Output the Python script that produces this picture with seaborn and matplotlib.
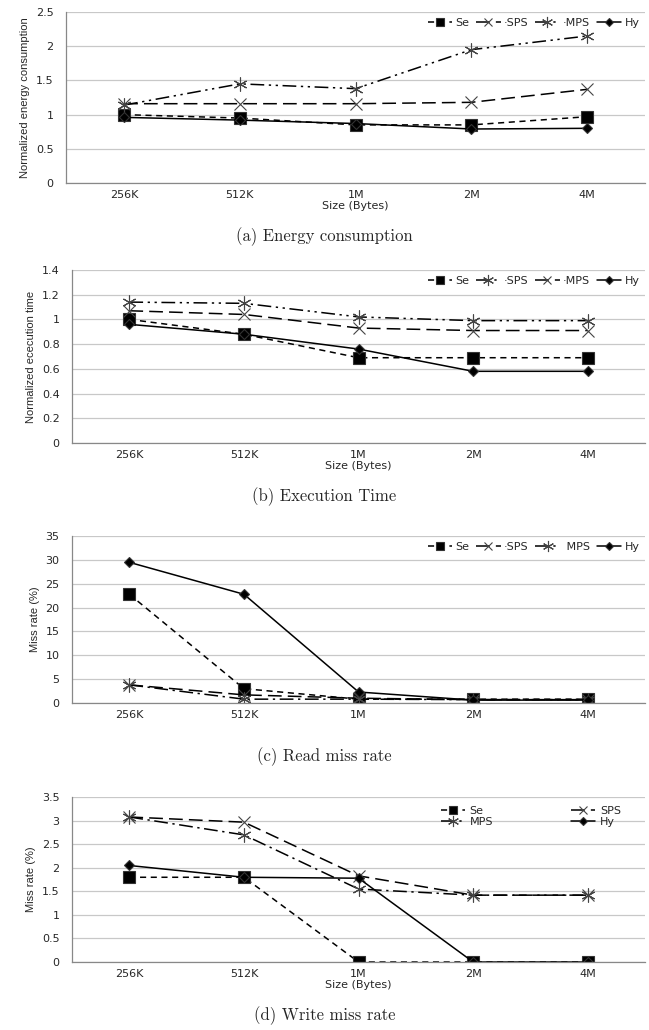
import matplotlib
matplotlib.use("Agg")
import matplotlib.pyplot as plt
import seaborn as sns
import pandas as pd

sizes = ["256K", "512K", "1M", "2M", "4M"]

# (a) energy consumption
energy_se = [1.00, 0.95, 0.85, 0.85, 0.97]
energy_sps = [1.16, 1.16, 1.16, 1.18, 1.37]
energy_mps = [1.14, 1.45, 1.38, 1.95, 2.15]
energy_hy = [0.96, 0.92, 0.87, 0.79, 0.80]

# (b) execution time
time_se = [1.00, 0.88, 0.69, 0.69, 0.69]
time_sps = [1.14, 1.13, 1.02, 0.99, 0.99]
time_mps = [1.07, 1.04, 0.93, 0.91, 0.91]
time_hy = [0.96, 0.88, 0.76, 0.58, 0.58]

# (c) read miss rate
read_se = [22.8, 3.0, 0.8, 0.8, 0.8]
read_sps = [3.8, 1.7, 1.0, 0.7, 0.7]
read_mps = [3.8, 0.8, 0.8, 0.7, 0.7]
read_hy = [29.5, 22.8, 2.3, 0.6, 0.6]

# (d) write miss rate
write_se = [1.80, 1.80, 0.0, 0.0, 0.0]
write_sps = [3.08, 2.97, 1.83, 1.42, 1.42]
write_mps = [3.08, 2.70, 1.55, 1.42, 1.42]
write_hy = [2.05, 1.80, 1.78, 0.0, 0.0]

sns.set_style("white")
plt.rcParams['font.family'] = ['DejaVu Sans']

fig = plt.figure(figsize=(6.49, 10.30), dpi=100)

dash_short = (4, 3)
dash_long = (9, 4)
dash_dot2 = (9, 3, 1.5, 3, 1.5, 3)
dash_dot = (9, 3, 1.5, 3)

star = (6, 2, 0)

# series name -> (marker, size, dash)
styles_a = {"Se": ("s", 8, dash_short), "SPS": ("x", 8, dash_long),
            "MPS": (star, 10, dash_dot2), "Hy": ("D", 5, None)}
styles_b = {"Se": ("s", 8, dash_short), "SPS": (star, 10, dash_dot2),
            "MPS": ("x", 8, dash_long), "Hy": ("D", 5, None)}
styles_d = {"Se": ("s", 8, dash_short), "SPS": ("x", 8, dash_long),
            "MPS": (star, 10, dash_dot), "Hy": ("D", 5, None)}

panels = [
    dict(rect=[0.102, 0.8223, 0.892, 0.166], data=[energy_se, energy_sps, energy_mps, energy_hy],
         ylim=(0, 2.5), yticks=[0, 0.5, 1, 1.5, 2, 2.5], ylabel="Normalized energy consumption",
         xlabel="Size (Bytes)", caption="(a) Energy consumption", styles=styles_a,
         legend_labels=["Se", "·SPS", "·MPS", "Hy"], ncol=4),
    dict(rect=[0.111, 0.5699, 0.883, 0.168], data=[time_se, time_sps, time_mps, time_hy],
         ylim=(0, 1.4), yticks=[0, 0.2, 0.4, 0.6, 0.8, 1, 1.2, 1.4], ylabel="Normalized ececution time",
         xlabel="Size (Bytes)", caption="(b) Execution Time", styles=styles_b,
         legend_labels=["Se", "·SPS", "·MPS", "Hy"], ncol=4),
    dict(rect=[0.111, 0.3175, 0.883, 0.162], data=[read_se, read_sps, read_mps, read_hy],
         ylim=(0, 35), yticks=[0, 5, 10, 15, 20, 25, 30, 35], ylabel="Miss rate (%)",
         xlabel=None, caption="(c) Read miss rate", styles=styles_d,
         legend_labels=["Se", "·SPS", " MPS", "Hy"], ncol=4),
    dict(rect=[0.111, 0.066, 0.883, 0.160], data=[write_se, write_sps, write_mps, write_hy],
         ylim=(0, 3.5), yticks=[0, 0.5, 1, 1.5, 2, 2.5, 3, 3.5], ylabel="Miss rate (%)",
         xlabel="Size (Bytes)", caption="(d) Write miss rate", styles=styles_d,
         legend_labels=["Se", "SPS", "MPS", "Hy"], ncol=2),
]

names = ["Se", "SPS", "MPS", "Hy"]

for p in panels:
    ax = fig.add_axes(p["rect"])
    for name, vals, leg in zip(names, p["data"], p["legend_labels"]):
        marker, ms, dash = p["styles"][name]
        df = pd.DataFrame({"x": range(len(sizes)), "y": vals})
        sns.lineplot(data=df, x="x", y="y", ax=ax, color="black", lw=1.1,
                     marker=marker, markersize=ms,
                     markeredgecolor="#333333" if name in ("Se", "Hy") else "#444444",
                     markeredgewidth=0.8, label=leg)
        line = ax.lines[-1]
        if dash is not None:
            line.set_dashes(dash)
    ax.set_xlim(-0.5, len(sizes) - 0.5)
    ax.set_ylim(*p["ylim"])
    ax.set_yticks(p["yticks"])
    ax.set_yticklabels([f"{t:g}" for t in p["yticks"]], fontsize=8)
    ax.set_xticks(range(len(sizes)))
    ax.set_xticklabels(sizes, fontsize=8)
    ax.tick_params(axis="x", length=0, pad=5)
    ax.tick_params(axis="y", length=3, color="#888888", pad=6)
    ax.yaxis.grid(True, color="#c8c8c8", lw=0.9)
    ax.set_axisbelow(True)
    # category boundary ticks
    ax.set_xticks([i + 0.5 for i in range(-1, len(sizes))], minor=True)
    ax.tick_params(axis="x", which="minor", length=4, color="#888888", direction="out")
    for s in ["top", "right"]:
        ax.spines[s].set_visible(False)
    for s in ["left", "bottom"]:
        ax.spines[s].set_color("#888888")
        ax.spines[s].set_linewidth(0.9)
    ax.set_ylabel(p["ylabel"], fontsize=8, family="Liberation Sans", labelpad=4)
    if p["xlabel"]:
        ax.set_xlabel(p["xlabel"], fontsize=8, labelpad=0.5)
    else:
        ax.set_xlabel("")
    handles, labels = ax.get_legend_handles_labels()
    if p["ncol"] == 2:
        # fill row-wise: Se SPS / MPS Hy
        order = [0, 2, 1, 3]
        handles = [handles[i] for i in order]
        labels = [labels[i] for i in order]
        ax.legend(handles, labels, loc="upper right", ncol=2, fontsize=8, frameon=False,
                  handlelength=2.2, columnspacing=7.0, handletextpad=0.4,
                  labelspacing=0.1, markerscale=0.8, bbox_to_anchor=(0.975, 1.01))
    else:
        ax.legend(handles, labels, loc="upper right", ncol=4, fontsize=8, frameon=False,
                  handlelength=2.2, columnspacing=0.6, handletextpad=0.3,
                  markerscale=0.8, borderaxespad=0.1, bbox_to_anchor=(1.0, 1.0))
    pos = ax.get_position()
    fig.text(0.5, pos.y0 - 0.052, p["caption"], ha="center", va="center",
             fontsize=12, family="cmr10")

fig.savefig("out.png", dpi=100)
